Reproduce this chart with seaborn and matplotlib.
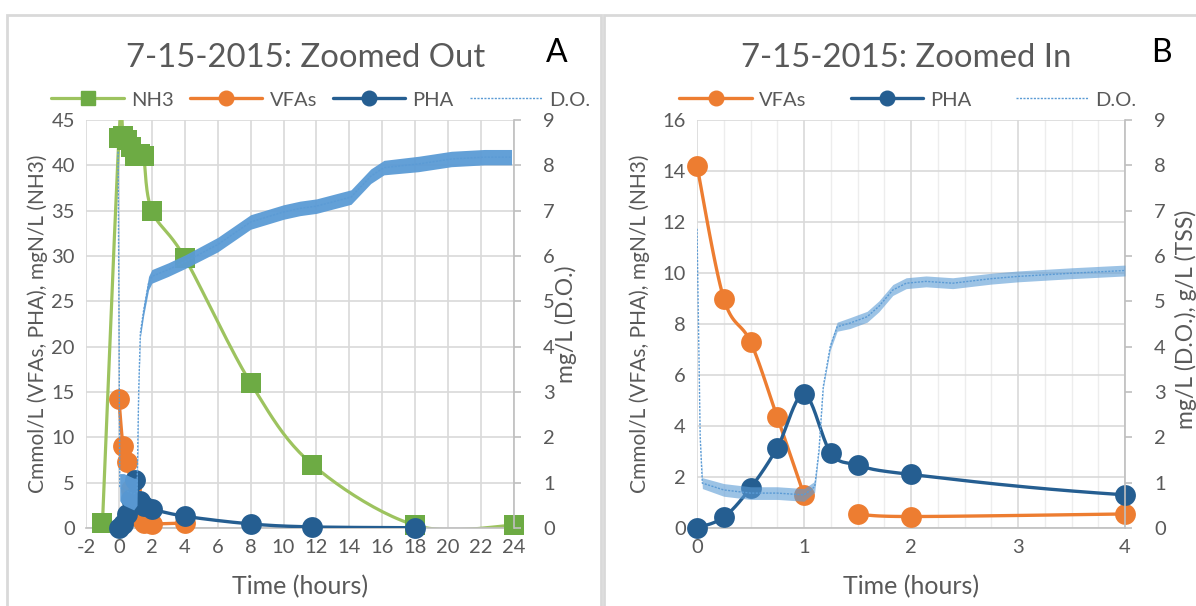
import numpy as np
import pandas as pd
import matplotlib
matplotlib.use("Agg")
import matplotlib.pyplot as plt
import seaborn as sns
from matplotlib.lines import Line2D
from matplotlib.patches import Rectangle
from matplotlib.ticker import MultipleLocator

# ---------------- data ----------------
T_SAMPLE = [0, 0.25, 0.5, 0.75, 1.0, 1.25, 1.5, 2.0, 4.0, 8.0, 11.75, 18.0]
VFA = [14.2, 9.0, 7.3, 4.35, 1.3, np.nan, 0.55, 0.45, 0.55, np.nan, np.nan, np.nan]
PHA = [0.0, 0.42, 1.57, 3.15, 5.25, 2.95, 2.47, 2.1, 1.3, 0.45, 0.12, 0.03]

T_NH3 = [-1, 0, 0.25, 0.5, 0.75, 1.0, 1.25, 1.5, 2, 4, 8, 11.75, 18, 24]
NH3 = [0.5, 43.0, 43.2, 42.8, 42.0, 41.0, 41.3, 41.0, 35.0, 29.8, 16.0, 7.0, 0.3, 0.3]

# D.O. trace (panel A, hours, mg/L) and width of its sensor noise band
T_DO_A = [-0.05, 0.0, 0.05, 0.3, 0.6, 0.9, 1.1, 1.2, 1.3, 1.5, 1.8, 2.0, 3.0, 4.0,
          6.0, 8.0, 10.0, 11.0, 12.0, 14.1, 15.3, 16.1, 18.2, 20.2, 22.2, 23.85]
DO_A = [8.3, 5.0, 0.9, 0.85, 0.8, 0.75, 0.8, 3.0, 4.3, 4.8, 5.4, 5.55, 5.7, 5.87,
        6.25, 6.75, 6.97, 7.05, 7.1, 7.3, 7.76, 7.95, 8.03, 8.14, 8.18, 8.18]
DO_A_NOISE = [0.0, 0.0, 0.3, 0.35, 0.35, 0.35, 0.3, 0.05, 0.1, 0.12, 0.15, 0.15, 0.15, 0.15,
              0.16, 0.16, 0.16, 0.16, 0.16, 0.16, 0.16, 0.16, 0.17, 0.17, 0.17, 0.17]

# D.O. trace (panel B)
T_DO_B = [0, 0.03, 0.05, 0.25, 0.5, 0.75, 1.0, 1.1, 1.14, 1.18, 1.245, 1.31, 1.43,
          1.59, 1.7, 1.83, 1.955, 2.14, 2.39, 2.75, 3.0, 3.5, 4.0]
DO_B = [6.6, 2.0, 0.99, 0.84, 0.77, 0.77, 0.73, 0.91, 1.72, 3.12, 4.0, 4.44, 4.52,
        4.66, 4.89, 5.25, 5.4, 5.44, 5.4, 5.5, 5.55, 5.62, 5.68]
DO_B_NOISE = [0.0, 0.0, 0.12, 0.14, 0.14, 0.14, 0.14, 0.12, 0.04, 0.04, 0.08, 0.1, 0.12,
              0.12, 0.12, 0.12, 0.12, 0.12, 0.12, 0.12, 0.12, 0.12, 0.12]

XTICKS_A = list(range(-2, 25, 2))
XTICKS_B = [0, 1, 2, 3, 4]

# ---------------- style ----------------
C_NH3_LINE = "#9DC35F"
C_NH3_MARK = "#6DAB44"
C_VFA = "#ED7D31"
C_PHA = "#255E91"
C_DO = "#5B9BD5"
C_TEXT = "#595959"
C_GRID = "#D9D9D9"

sns.set_theme(style="white")
plt.rcParams["font.family"] = ["Lato", "DejaVu Sans"]
plt.rcParams["axes.unicode_minus"] = False

W, H = 1196, 606
fig = plt.figure(figsize=(W / 100, H / 100), dpi=100)


def smooth(x, y, sx, sy, n=24):
    """Excel-like smoothed line (Catmull-Rom Bezier) in screen space."""
    x = np.asarray(x, float)
    y = np.asarray(y, float)
    P = np.column_stack([x * sx, y * sy])
    if len(P) < 2:
        return x, y
    parts = []
    for i in range(len(P) - 1):
        p0 = P[i - 1] if i > 0 else P[i]
        p1, p2 = P[i], P[i + 1]
        p3 = P[i + 2] if i + 2 < len(P) else P[i + 1]
        c1 = p1 + (p2 - p0) / 6
        c2 = p2 - (p3 - p1) / 6
        t = np.linspace(0, 1, n)[:, None]
        B = (1 - t) ** 3 * p1 + 3 * (1 - t) ** 2 * t * c1 + 3 * (1 - t) * t ** 2 * c2 + t ** 3 * p2
        parts.append(B if i == 0 else B[1:])
    B = np.vstack(parts)
    return B[:, 0] / sx, B[:, 1] / sy


def segments(x, y):
    segs, cur = [], []
    for xi, yi in zip(x, y):
        if not np.isnan(yi):
            cur.append((xi, yi))
        elif cur:
            segs.append(cur)
            cur = []
    if cur:
        segs.append(cur)
    return segs


def smooth_series(ax, x, y, color, lw, sx, sy, z):
    for seg in segments(x, y):
        sxs, sys_ = smooth([p[0] for p in seg], [p[1] for p in seg], sx, sy)
        sns.lineplot(x=sxs, y=sys_, ax=ax, color=color, lw=lw, sort=False,
                     estimator=None, zorder=z, legend=False)


def markers(ax, x, y, color, marker, size, z):
    x0, x1 = ax.get_xlim()
    df = pd.DataFrame({"x": x, "y": y}).dropna()
    df = df[(df.x >= x0) & (df.x <= x1)]
    n_before = len(ax.collections)
    sns.scatterplot(data=df, x="x", y="y", ax=ax, color=color, marker=marker,
                    s=size ** 2, linewidth=0, zorder=z, legend=False)
    for c in ax.collections[n_before:]:
        c.set_clip_on(False)


def setup_panel(rect, xlim, ylim, xticks, ymajor, y2lim):
    ax = fig.add_axes(rect)
    ax.set_xlim(*xlim)
    ax.set_ylim(*ylim)
    ax.set_xticks(xticks)
    ax.yaxis.set_major_locator(MultipleLocator(ymajor))
    ax.grid(True, which="major", color=C_GRID, lw=1.2)
    for s in ["top", "right", "left"]:
        ax.spines[s].set_visible(False)
    ax.spines["bottom"].set_color("#BFBFBF")
    ax.spines["bottom"].set_linewidth(1.2)
    ax.tick_params(axis="both", labelsize=14.5, colors=C_TEXT, length=0, pad=8)
    ax.set_axisbelow(True)
    ax2 = ax.twinx()
    ax2.set_ylim(*y2lim)
    ax2.yaxis.set_major_locator(MultipleLocator(1))
    for s in ["top", "left", "bottom"]:
        ax2.spines[s].set_visible(False)
    ax2.spines["right"].set_color("#BFBFBF")
    ax2.spines["right"].set_linewidth(1.2)
    ax2.tick_params(axis="y", labelsize=14.5, colors=C_TEXT, length=5, width=1.2,
                    direction="out", pad=16)
    ax2.tick_params(axis="y", color="#BFBFBF")
    ax2.grid(False)
    return ax, ax2


def pix_scale(ax):
    bb = ax.get_position()
    x0, x1 = ax.get_xlim()
    y0, y1 = ax.get_ylim()
    return bb.width * W / (x1 - x0), bb.height * H / (y1 - y0)


def draw_do(ax2, t, v, w, alpha):
    t = np.asarray(t)
    v = np.asarray(v)
    w = np.asarray(w)
    ax2.fill_between(t, v - w, v + w, color=C_DO, lw=0, alpha=alpha, zorder=3)
    sns.lineplot(x=t, y=v, ax=ax2, color=C_DO, lw=1.0, ls=(0, (1.5, 1.0)),
                 sort=False, estimator=None, zorder=3, legend=False)


XL_SIZE = 18
YL_LEFT_SIZE = 15
YL_RIGHT_SIZE = 16.5

# ---------------- panel A ----------------
axA, axA2 = setup_panel([86 / W, 1 - 528 / H, (514 - 86) / W, (528 - 120) / H],
                        (-2, 24), (0, 45), XTICKS_A, 5, (0, 9))
sxA, syA = pix_scale(axA)
smooth_series(axA, T_NH3, NH3, C_NH3_LINE, 2.3, sxA, syA, 2)
markers(axA, T_NH3, NH3, C_NH3_MARK, "s", 14, 3)
smooth_series(axA, T_SAMPLE, VFA, C_VFA, 2.4, sxA, syA, 4)
markers(axA, T_SAMPLE, VFA, C_VFA, "o", 15, 5)
smooth_series(axA, T_SAMPLE, PHA, C_PHA, 2.4, sxA, syA, 6)
markers(axA, T_SAMPLE, PHA, C_PHA, "o", 15, 7)
draw_do(axA2, T_DO_A, DO_A, DO_A_NOISE, 0.95)
axA.set_xlabel("Time (hours)", fontsize=XL_SIZE, color=C_TEXT)
axA.set_ylabel("Cmmol/L (VFAs, PHA), mgN/L (NH3)", fontsize=YL_LEFT_SIZE, color=C_TEXT)
axA2.set_ylabel("mg/L (D.O.)", fontsize=YL_RIGHT_SIZE, color=C_TEXT)
axA.xaxis.set_label_coords(0.5, -0.115)
axA.yaxis.set_label_coords(-0.088, 0.5)
axA2.yaxis.set_label_coords(1.096, 0.5)

# ---------------- panel B ----------------
axB, axB2 = setup_panel([697 / W, 1 - 528 / H, (1125 - 697) / W, (528 - 120) / H],
                        (0, 4), (0, 16), XTICKS_B, 2, (0, 9))
axB.xaxis.set_minor_locator(MultipleLocator(0.25))
axB.grid(True, which="minor", axis="x", color="#EDEDED", lw=1.0)
sxB, syB = pix_scale(axB)
smooth_series(axB, T_SAMPLE, VFA, C_VFA, 2.4, sxB, syB, 4)
markers(axB, T_SAMPLE, VFA, C_VFA, "o", 15, 5)
smooth_series(axB, T_SAMPLE, PHA, C_PHA, 2.4, sxB, syB, 6)
markers(axB, T_SAMPLE, PHA, C_PHA, "o", 15, 7)
draw_do(axB2, T_DO_B, DO_B, DO_B_NOISE, 0.6)
axB.set_xlabel("Time (hours)", fontsize=XL_SIZE, color=C_TEXT)
axB.set_ylabel("Cmmol/L (VFAs, PHA), mgN/L (NH3)", fontsize=YL_LEFT_SIZE, color=C_TEXT)
axB2.set_ylabel("mg/L (D.O.), g/L (TSS)", fontsize=YL_RIGHT_SIZE, color=C_TEXT)
axB.xaxis.set_label_coords(0.5, -0.115)
axB.yaxis.set_label_coords(-0.11, 0.5)
axB2.yaxis.set_label_coords(1.117, 0.512)

# ---------------- titles, legends, frames ----------------
fig.text(306 / W, 1 - 58 / H, "7-15-2015: Zoomed Out", ha="center", va="center",
         fontsize=23.7, color=C_TEXT)
fig.text(906 / W, 1 - 58 / H, "7-15-2015: Zoomed In", ha="center", va="center",
         fontsize=23.7, color=C_TEXT)
fig.text(557 / W, 1 - 53 / H, "A", ha="center", va="center", fontsize=23, color="black")
fig.text(1161 / W, 1 - 53 / H, "B", ha="center", va="center", fontsize=23, color="black")

h_nh3 = Line2D([], [], color=C_NH3_LINE, lw=2.3, marker="s", ms=10.5,
               mfc=C_NH3_MARK, mec=C_NH3_MARK)
h_vfa = Line2D([], [], color=C_VFA, lw=2.4, marker="o", ms=10.5, mfc=C_VFA, mec=C_VFA)
h_pha = Line2D([], [], color=C_PHA, lw=2.4, marker="o", ms=10.5, mfc=C_PHA, mec=C_PHA)
h_do = Line2D([], [], color=C_DO, lw=1.0, ls=(0, (1.5, 1.0)))

fig.legend([h_nh3, h_vfa, h_pha, h_do], ["NH3", "VFAs", "PHA", "D.O."],
           loc="center", bbox_to_anchor=(321 / W, 1 - 100 / H), ncol=4,
           frameon=False, fontsize=14.5, handlelength=3.6, handletextpad=0.35,
           columnspacing=0.8, labelcolor=C_TEXT, borderpad=0, borderaxespad=0)
fig.legend([h_vfa, h_pha, h_do], ["VFAs", "PHA", "D.O."],
           loc="center", bbox_to_anchor=(908 / W, 1 - 100 / H), ncol=3,
           frameon=False, fontsize=14.5, handlelength=3.6, handletextpad=0.35,
           columnspacing=2.2, labelcolor=C_TEXT, borderpad=0, borderaxespad=0)

fig.patches.append(Rectangle((7 / W, -0.1), (601 - 7) / W, 1.1 - 15 / H,
                             transform=fig.transFigure, fill=False,
                             ec="#D9D9D9", lw=2, zorder=0))
fig.patches.append(Rectangle((604 / W, -0.1), (1200 - 604) / W, 1.1 - 15 / H,
                             transform=fig.transFigure, fill=False,
                             ec="#D9D9D9", lw=2, zorder=0))

fig.savefig("out.png", dpi=100)
